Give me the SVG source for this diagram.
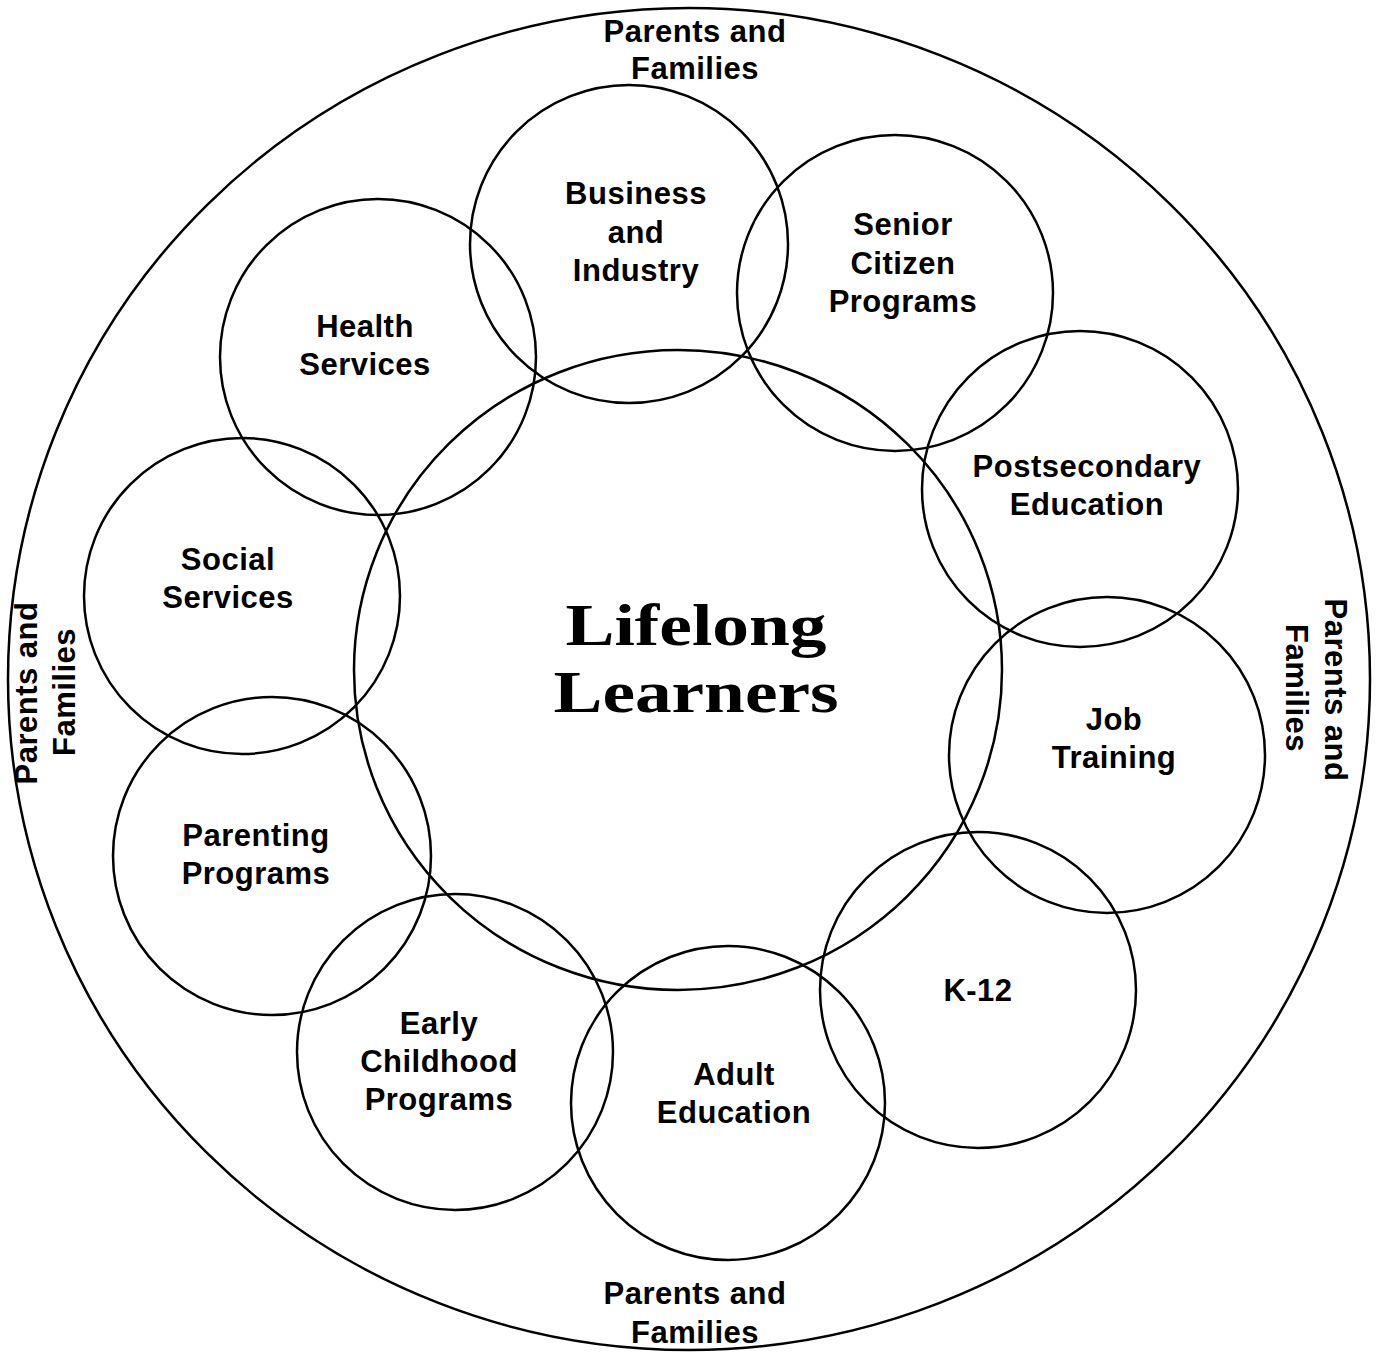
<svg xmlns="http://www.w3.org/2000/svg" width="1377" height="1352" viewBox="0 0 1377 1352">
<style>
.c{fill:none;stroke:#000;stroke-width:2.5}
.t{font-family:"Liberation Sans",Arial,sans-serif;font-weight:bold;font-size:31px;fill:#000;text-anchor:middle;letter-spacing:0.5px}
.h{font-family:"Liberation Serif","Times New Roman",serif;font-weight:bold;font-size:60px;fill:#000;text-anchor:middle}
</style>
<rect width="1377" height="1352" fill="#fff"/>
<g id="outer">
<ellipse class="c" cx="689" cy="679" rx="681" ry="671"/>
<text class="t" x="695" y="42">Parents and</text>
<text class="t" x="695" y="79">Families</text>
<text class="t" x="695" y="1304">Parents and</text>
<text class="t" x="695" y="1343">Families</text>
<text class="t" transform="translate(37,693) rotate(-90)">Parents and</text>
<text class="t" transform="translate(75,692) rotate(-90)">Families</text>
<text class="t" transform="translate(1325,690) rotate(90)">Parents and</text>
<text class="t" transform="translate(1286,688) rotate(90)">Families</text>
</g>
<g id="center">
<ellipse class="c" cx="678" cy="670" rx="324" ry="320"/>
<text class="h" x="696" y="645" textLength="261" lengthAdjust="spacingAndGlyphs">Lifelong</text>
<text class="h" x="696" y="712" textLength="285" lengthAdjust="spacingAndGlyphs">Learners</text>
</g>
<g id="business">
<circle class="c" cx="629" cy="244" r="159"/>
<text class="t" x="636" y="204">Business</text>
<text class="t" x="636" y="243">and</text>
<text class="t" x="636" y="281">Industry</text>
</g>
<g id="senior">
<circle class="c" cx="895" cy="293" r="158"/>
<text class="t" x="903" y="235">Senior</text>
<text class="t" x="903" y="274">Citizen</text>
<text class="t" x="903" y="312">Programs</text>
</g>
<g id="postsecondary">
<circle class="c" cx="1080" cy="489" r="158"/>
<text class="t" x="1087" y="477">Postsecondary</text>
<text class="t" x="1087" y="515">Education</text>
</g>
<g id="job">
<circle class="c" cx="1107" cy="755" r="158"/>
<text class="t" x="1114" y="730">Job</text>
<text class="t" x="1114" y="768">Training</text>
</g>
<g id="k12">
<circle class="c" cx="978" cy="990" r="158"/>
<text class="t" x="978" y="1001">K-12</text>
</g>
<g id="adult">
<circle class="c" cx="728" cy="1103" r="157"/>
<text class="t" x="734" y="1085">Adult</text>
<text class="t" x="734" y="1123">Education</text>
</g>
<g id="early">
<circle class="c" cx="455" cy="1052" r="158"/>
<text class="t" x="439" y="1034">Early</text>
<text class="t" x="439" y="1072">Childhood</text>
<text class="t" x="439" y="1110">Programs</text>
</g>
<g id="parenting">
<circle class="c" cx="272" cy="856" r="159"/>
<text class="t" x="256" y="846">Parenting</text>
<text class="t" x="256" y="884">Programs</text>
</g>
<g id="social">
<circle class="c" cx="242" cy="596" r="158"/>
<text class="t" x="228" y="570">Social</text>
<text class="t" x="228" y="608">Services</text>
</g>
<g id="health">
<circle class="c" cx="378" cy="357" r="158"/>
<text class="t" x="365" y="337">Health</text>
<text class="t" x="365" y="375">Services</text>
</g>
<g id="connectors"></g>
</svg>
